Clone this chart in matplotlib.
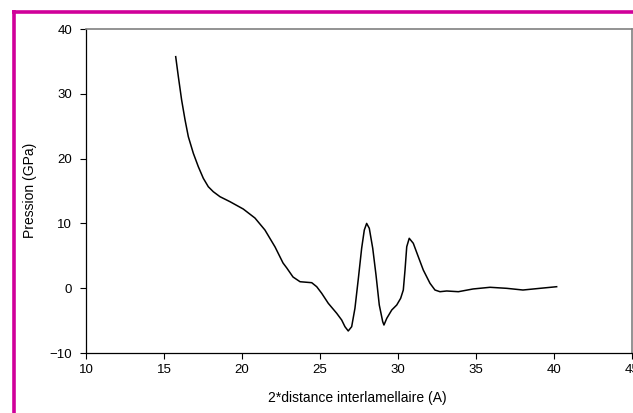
import numpy as np
import matplotlib.pyplot as plt
from matplotlib.lines import Line2D

plt.rcParams['font.family'] = ['Liberation Sans', 'DejaVu Sans']

# values
dist = [15.75, 15.92, 16.13, 16.35, 16.56, 16.88, 17.20, 17.52, 17.84, 18.16,
        18.59, 19.23, 20.08, 20.83, 21.47, 22.12, 22.63, 22.87, 23.27, 23.72,
        24.47, 24.79, 25.11, 25.53, 26.07, 26.39, 26.60, 26.81, 27.03, 27.24,
        27.46, 27.67, 27.84, 27.99, 28.16, 28.38, 28.59, 28.80, 29.02, 29.10,
        29.28, 29.60, 29.92, 30.17, 30.34, 30.45, 30.56, 30.72, 30.98, 31.30,
        31.62, 32.05, 32.37, 32.69, 33.12, 33.87, 34.81, 35.90, 36.97, 38.01,
        39.10, 40.17]
pression = [35.73, 32.64, 29.04, 25.96, 23.38, 20.82, 18.75, 16.96, 15.66, 14.89,
            14.12, 13.35, 12.22, 10.83, 8.98, 6.36, 3.89, 3.12, 1.73, 1.00,
            0.85, 0.23, -0.79, -2.33, -3.87, -4.91, -5.94, -6.60, -5.94, -3.10,
            1.53, 6.16, 8.98, 10.00, 9.24, 6.16, 2.04, -2.59, -5.17, -5.68,
            -4.65, -3.36, -2.59, -1.56, -0.28, 2.81, 6.40, 7.70, 6.93, 4.86,
            2.81, 0.76, -0.28, -0.54, -0.43, -0.54, -0.12, 0.14, -0.02, -0.28,
            -0.02, 0.23]

xticks = [10, 15, 20, 25, 30, 35, 40, 45]
yticks = [-10, 0, 10, 20, 30, 40]

fig = plt.figure(figsize=(6.33, 4.13), dpi=100)
ax = fig.add_axes([86/633, 1 - 353/413, 546/633, 324/413])

ax.plot(dist, pression, color='black', lw=1.1, solid_joinstyle='round')

ax.set_xlim(10, 45)
ax.set_ylim(-10, 40)
ax.set_xticks(xticks)
ax.set_yticks(yticks)
ax.tick_params(direction='out', length=4, width=0.8, labelsize=9.5, pad=4)
ax.tick_params(axis='y', pad=6)
for s in ['left', 'bottom']:
    ax.spines[s].set_color('black')
    ax.spines[s].set_linewidth(0.9)
for s in ['top', 'right']:
    ax.spines[s].set_color('#808080')
    ax.spines[s].set_linewidth(1.2)

fig.text(357/633, 1 - 398/413, '2*distance interlamellaire (A)', ha='center',
         va='center', fontsize=10)
fig.text(30/633, 1 - 190/413, 'Pression (GPa)', ha='center', va='center',
         rotation=90, fontsize=10)

# magenta frame on the left and top
mag = '#d0009a'
fig.add_artist(Line2D([13.5/633, 13.5/633], [0, 1 - 10/413], color=mag, lw=2.6,
                      transform=fig.transFigure, solid_capstyle='butt'))
fig.add_artist(Line2D([12/633, 1], [1 - 11.5/413, 1 - 11.5/413], color=mag, lw=2.6,
                      transform=fig.transFigure, solid_capstyle='butt'))

fig.savefig('out.png', dpi=100)
